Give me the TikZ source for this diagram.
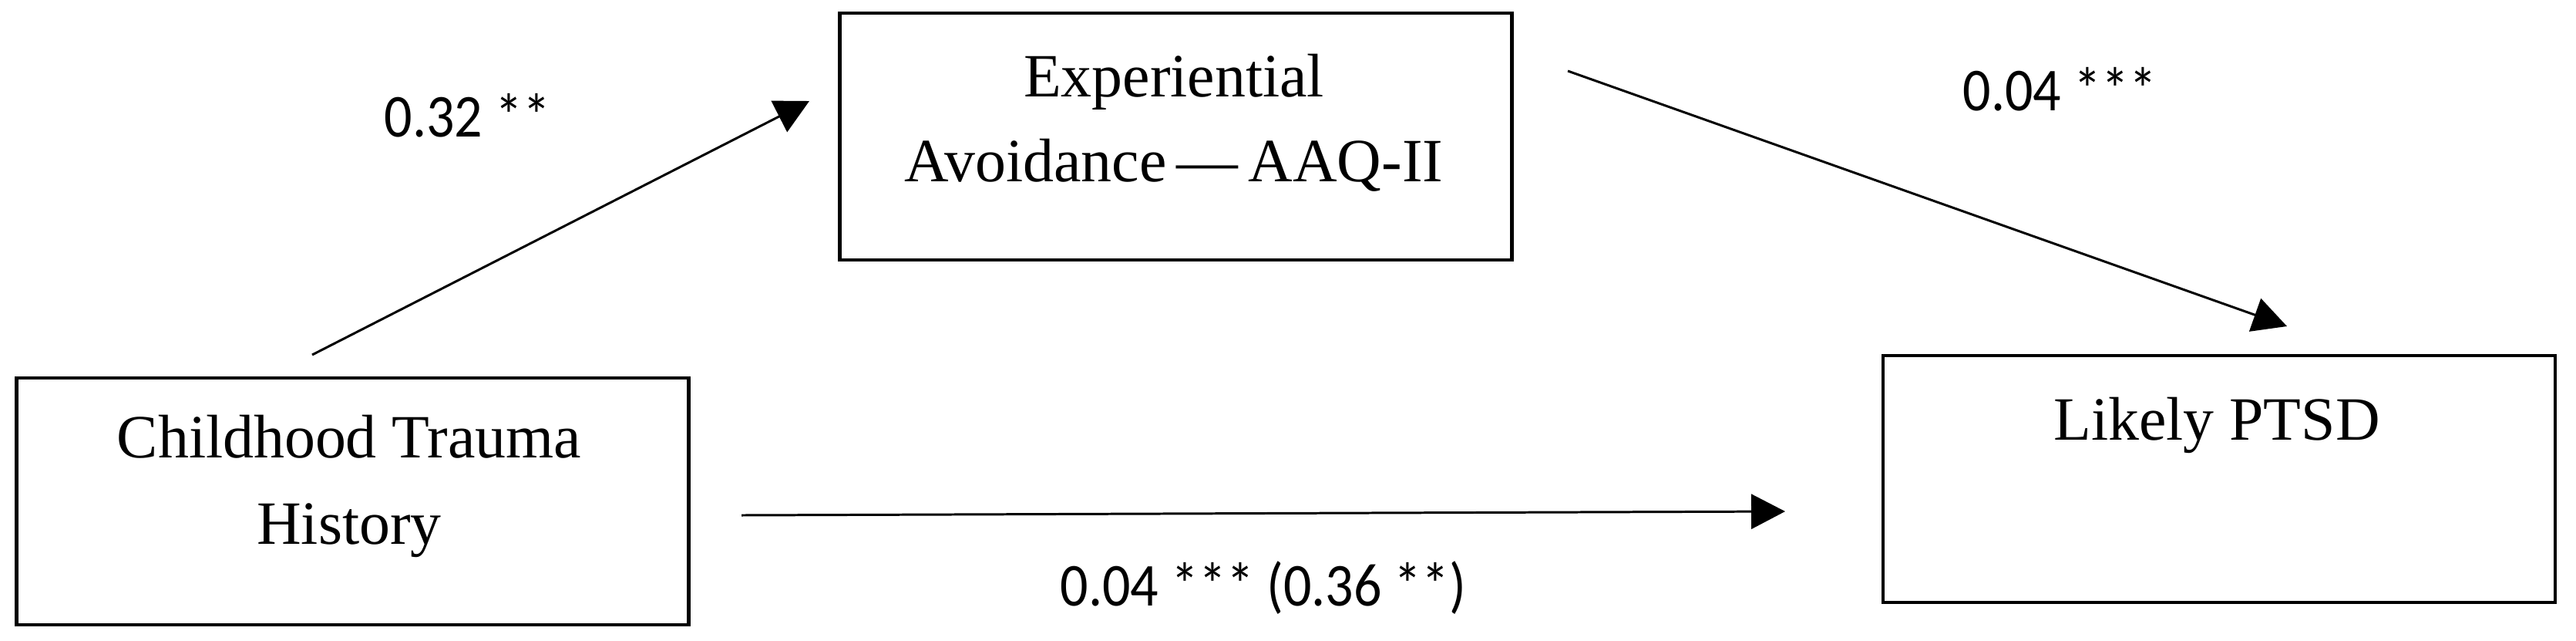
\documentclass[tikz,border=0pt]{standalone}
\usepackage{fontspec}
\setmainfont{Liberation Serif}
\newfontfamily\labfont[FakeStretch=0.91]{Carlito}
\usetikzlibrary{arrows.meta}
\tikzset{
  box/.style={draw=black, line width=1.4pt, rectangle, inner sep=0pt,
              minimum width=8.72cm, minimum height=3.20cm},
  boxtext/.style={anchor=base, inner sep=0pt, font=\fontsize{22.7}{30}\selectfont},
  coef/.style={anchor=base west, inner sep=0pt, font=\labfont\fontsize{22.5}{27}\selectfont},
  path/.style={draw=black, line width=0.85pt, -{Triangle[length=4.4mm, width=4.5mm]}}
}
\begin{document}
\begin{tikzpicture}
\useasboundingbox (0,0) rectangle (33.42,8.30);
% boxes
\node[box] (ct) at (4.575,1.80) {};
\node[box] (ea) at (15.255,6.53) {};
\node[box] (pt) at (28.79,2.09) {};
% box texts
\node[boxtext] (ct1) at (4.53,2.37) {Childhood Trauma};
\node[boxtext] (ct2) at (4.53,1.25) {History};
\node[boxtext] (ea1) at (15.23,7.05) {Experiential};
\node[boxtext] (ea2) at (15.23,5.95) {Avoidance\,—\,AAQ-II};
\node[boxtext] (pt1) at (28.76,2.60) {Likely PTSD};
% connector ends
\coordinate (a1s) at (4.05,3.70);
\coordinate (a1e) at (10.50,6.99);
\coordinate (a2s) at (20.34,7.38);
\coordinate (a2e) at (29.67,4.07);
\coordinate (a3s) at (9.62,1.62);
\coordinate (a3e) at (23.16,1.67);
\draw[path] (a1s) -- (a1e);
\draw[path] (a2s) -- (a2e);
\draw[path] (a3s) -- (a3e);
% coefficients
\node[coef] (c1) at (4.98,6.53) {0.32 **};
\node[coef] (c2) at (25.46,6.87) {0.04 ***};
\node[coef] (c3) at (13.75,0.45) {0.04 *** (0.36 **)};
\end{tikzpicture}
\end{document}
